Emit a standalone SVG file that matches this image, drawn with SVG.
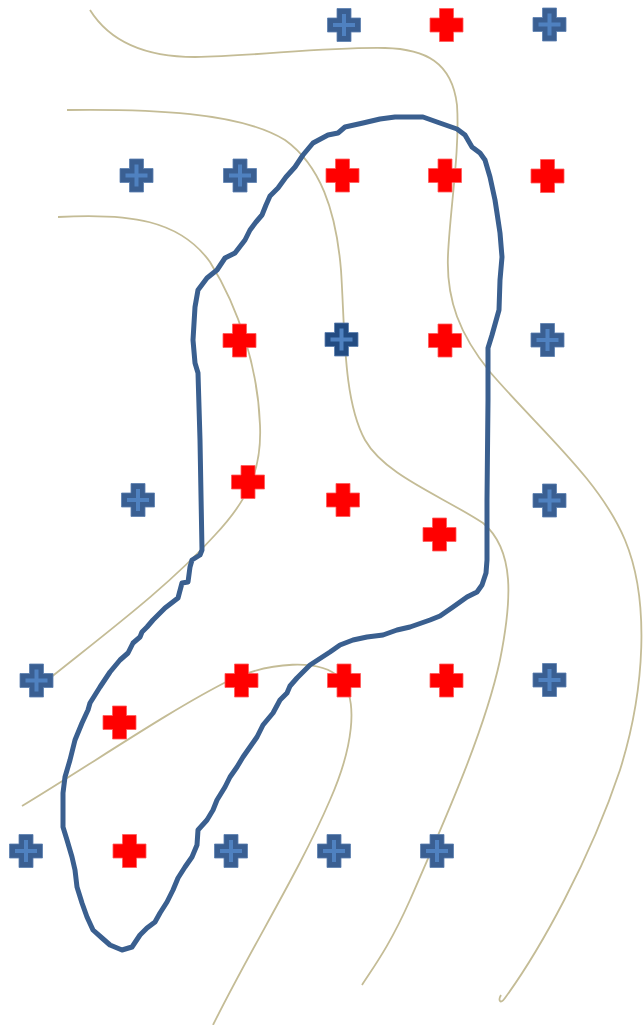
<svg xmlns="http://www.w3.org/2000/svg" width="644" height="1025" viewBox="0 0 644 1025">
<style>
.curve{fill:none;stroke:#c4bc96;stroke-width:1.8}
.outline{fill:none;stroke:#3a5f8f;stroke-width:5;stroke-linejoin:round;stroke-linecap:round}
.red{fill:#ff0000;stroke:#ff5a5a;stroke-width:0.8}
.blue{fill:#3a5f92;stroke:#5a7fb0;stroke-width:0.8}
.bluedark{fill:#234c82;stroke:#5a7fb0;stroke-width:0.8}
.inner{stroke:#4f81c0;stroke-width:4;fill:none}
</style>
<defs>
<path id="plus" d="M-7,-16.5 H7 V-7 H16.5 V7 H7 V16.5 H-7 V7 H-16.5 V-7 H-7 Z"/>
<g id="bplus"><use href="#plus" class="blue"/><path class="inner" d="M-11,0 H11 M0,-11 V11"/></g>
<g id="bdplus"><use href="#plus" class="bluedark"/><path class="inner" d="M-11,0 H11 M0,-11 V11"/></g>
<g id="rplus"><use href="#plus" class="red"/></g>
</defs>
<g id="contours">
<path class="curve" d="M90,10 C110,42 145,57 195,57 C260,56 320,47 385,48 C425,49 452,62 457,105 C460,150 450,210 448,255 C446,300 460,335 490,372 C540,430 600,480 625,540 C650,600 645,690 620,770 C590,860 540,950 505,998 C500,1005 498,1000 501,995"/>
<path class="curve" d="M67,110 C150,109 240,112 285,140 C320,165 336,210 341,270 C345,330 343,400 365,440 C385,475 440,495 483,523 C515,550 512,600 500,660 C485,730 445,820 410,900 C390,945 375,965 362,985"/>
<path class="curve" d="M58,217 C130,213 180,220 210,262 C240,310 258,370 260,425 C262,470 248,500 215,535 C170,585 110,630 50,678"/>
<path class="curve" d="M22,806 C90,765 170,710 230,680 C270,662 320,658 340,678 C360,700 352,750 330,800 C300,870 250,950 213,1025"/>
</g>
<g id="outline">
<path class="outline" d="M395,117 L423,117 L437,122 L457,129 L465,135 L472,147 L480,153 L485,160 L490,177 L495,200 L497,213 L500,233 L502,257 L500,280 L499,310 L492,335 L488,348 L488,400 L487,500 L487,560 L486,573 L482,585 L477,592 L467,597 L453,607 L440,616 L430,620 L410,627 L397,630 L383,635 L367,637 L353,640 L340,645 L330,652 L310,665 L303,672 L297,678 L290,686 L287,693 L280,700 L273,713 L263,725 L257,737 L250,747 L243,757 L237,767 L230,777 L225,787 L217,800 L213,810 L207,820 L198,830 L197,845 L192,857 L185,867 L178,878 L173,890 L167,902 L160,913 L155,922 L147,928 L140,935 L138,938 L132,947 L122,950 L110,945 L102,938 L93,930 L87,917 L82,903 L77,887 L75,870 L72,857 L67,840 L63,827 L63,793 L65,777 L70,760 L75,740 L82,723 L88,710 L90,703 L100,687 L110,672 L120,660 L128,653 L133,643 L140,637 L142,632 L147,627 L153,620 L160,613 L165,608 L178,598 L182,583 L188,582 L190,567 L192,560 L200,555 L202,550 L200,440 L198,373 L195,363 L193,340 L195,307 L198,290 L207,278 L217,270 L225,258 L235,253 L245,240 L250,230 L256,222 L262,215 L266,205 L270,196 L278,188 L286,177 L295,167 L303,155 L313,143 L328,135 L338,133 L345,127 L363,123 L380,119 Z"/>
</g>
<g id="points">
<use href="#bplus" x="344" y="25"/>
<use href="#rplus" x="446.5" y="25"/>
<use href="#bplus" x="549.5" y="24.5"/>
<use href="#bplus" x="136.5" y="175.5"/>
<use href="#bplus" x="240" y="175.5"/>
<use href="#rplus" x="342.5" y="175.5"/>
<use href="#rplus" x="445" y="175.5"/>
<use href="#rplus" x="547.5" y="176"/>
<use href="#rplus" x="239.5" y="340.5"/>
<use href="#bdplus" x="341.5" y="339.5"/>
<use href="#rplus" x="445" y="340.5"/>
<use href="#bplus" x="547.5" y="340"/>
<use href="#bplus" x="138" y="500"/>
<use href="#rplus" x="248" y="482"/>
<use href="#rplus" x="343" y="500"/>
<use href="#rplus" x="439.5" y="534.5"/>
<use href="#bplus" x="549.5" y="500.5"/>
<use href="#bplus" x="36.5" y="680.5"/>
<use href="#rplus" x="119.5" y="722.5"/>
<use href="#rplus" x="241.5" y="680.5"/>
<use href="#rplus" x="344" y="680.5"/>
<use href="#rplus" x="446.5" y="680.5"/>
<use href="#bplus" x="549.5" y="680"/>
<use href="#bplus" x="26" y="851"/>
<use href="#rplus" x="129.5" y="851"/>
<use href="#bplus" x="231" y="851"/>
<use href="#bplus" x="334" y="851"/>
<use href="#bplus" x="437" y="851"/>
</g>
</svg>
